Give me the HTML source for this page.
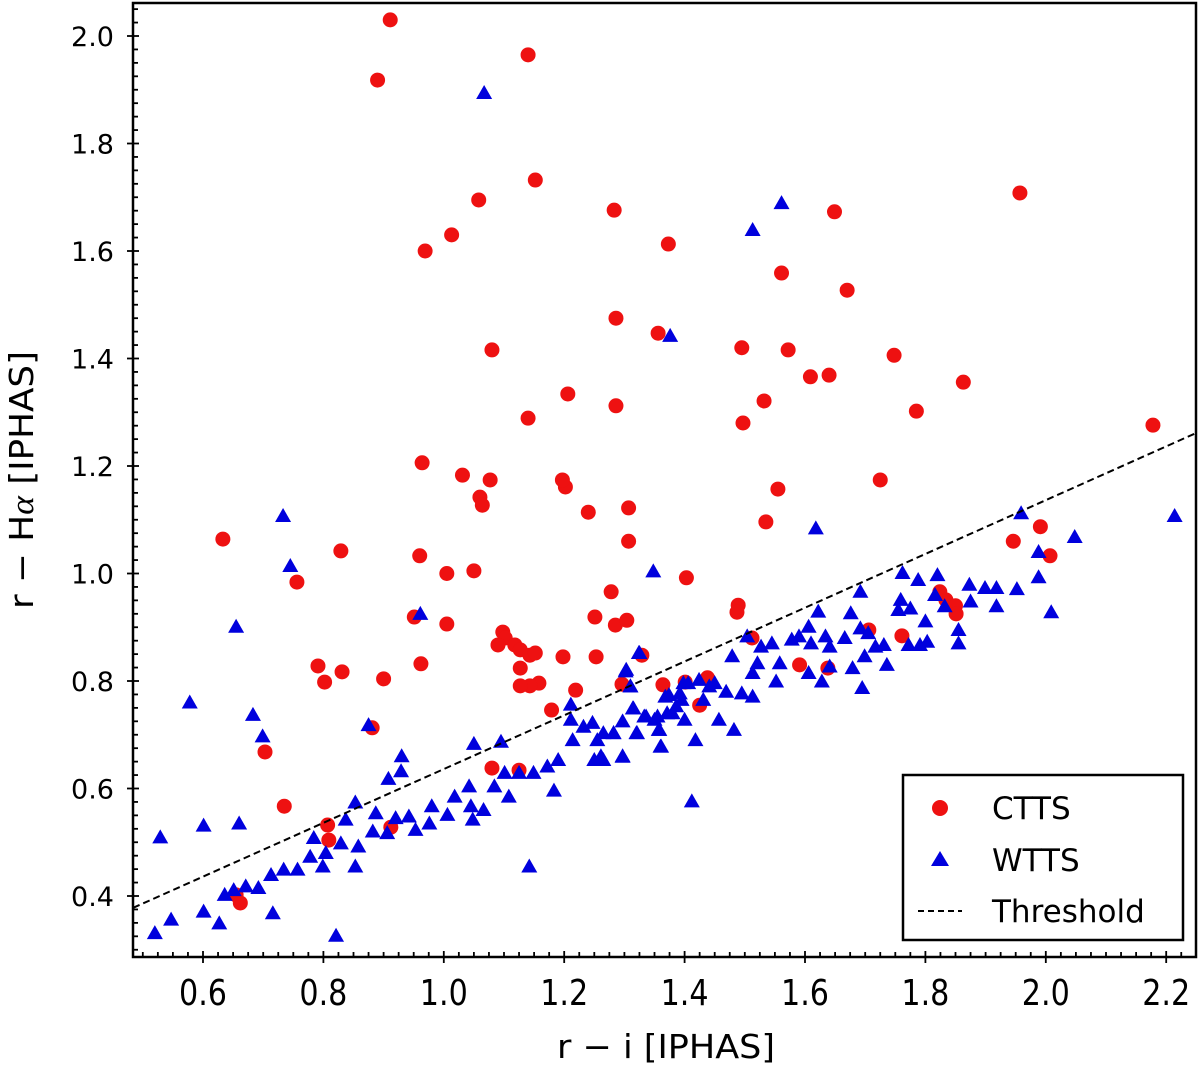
<!DOCTYPE html>
<html><head><meta charset="utf-8"><style>
html,body{margin:0;padding:0;background:#fff;}
svg{display:block;font-family:"DejaVu Sans","Liberation Sans",sans-serif;}
</style></head><body>
<svg id="chart" width="1200" height="1068" viewBox="0 0 1200 1068">
<g id="marks"></g>
<g id="axes"></g>
<text x="666" y="1058" font-size="33" text-anchor="middle" textLength="218" lengthAdjust="spacingAndGlyphs">r − i  [IPHAS]</text>
<text transform="translate(33,480) rotate(-90)" font-size="33" text-anchor="middle" textLength="258" lengthAdjust="spacingAndGlyphs">r − H<tspan font-style="italic" font-family="Liberation Serif, serif">α</tspan>  [IPHAS]</text>
<g>
<rect x="903" y="775" width="280" height="165" fill="#fff" stroke="#000" stroke-width="2.5"/>
<g><circle cx="940" cy="808" r="8" fill="#ee1111"/><text x="992" y="819" font-size="31">CTTS</text></g>
<g><polygon points="931,866 940,851 949,866" fill="#0000dd"/><text x="992" y="871" font-size="31">WTTS</text></g>
<g><line x1="918" y1="911" x2="962" y2="911" stroke="#000" stroke-width="2" stroke-dasharray="6,4"/><text x="992" y="922" font-size="31">Threshold</text></g>
</g>
</svg>
<script>
const xTicks=[0.6,0.8,1.0,1.2,1.4,1.6,1.8,2.0,2.2];
const yTicks=[0.4,0.6,0.8,1.0,1.2,1.4,1.6,1.8,2.0];
const thresholdX=[0.484,2.249];
const thresholdY=[0.378,1.261];
const cttsX=[0.911,0.890,1.140,1.152,1.058,1.013,0.969,1.283,1.373,1.080,1.286,1.356,1.206,1.286,1.140,0.964,1.031,1.077,1.060,1.064,1.202,1.197,1.240,1.307,1.307,1.005,0.960,1.050,1.278,1.251,1.285,1.304,1.098,1.102,1.118,1.127,1.143,1.090,1.152,1.158,1.127,1.198,1.253,1.219,1.143,1.127,1.179,1.296,1.329,0.951,1.005,0.962,0.791,0.831,0.802,0.900,0.881,0.703,0.735,0.807,0.912,0.633,0.756,0.829,1.080,1.125,1.403,1.401,1.364,1.489,1.487,1.512,1.495,1.649,1.561,1.670,1.572,1.609,1.640,1.532,1.497,1.748,1.785,1.957,1.863,2.178,1.725,1.555,1.535,1.946,1.991,2.007,1.824,1.834,1.850,1.851,1.761,1.706,1.591,1.638,1.438,1.425,0.655,0.662,0.809];
const cttsY=[2.030,1.918,1.965,1.732,1.695,1.630,1.600,1.676,1.613,1.416,1.475,1.447,1.334,1.312,1.289,1.206,1.183,1.174,1.142,1.127,1.161,1.174,1.114,1.122,1.060,1.000,1.033,1.005,0.966,0.919,0.904,0.913,0.891,0.880,0.867,0.858,0.848,0.867,0.852,0.796,0.824,0.845,0.845,0.783,0.791,0.791,0.746,0.794,0.848,0.919,0.906,0.832,0.828,0.817,0.798,0.804,0.713,0.668,0.567,0.532,0.528,1.064,0.984,1.042,0.638,0.634,0.992,0.798,0.793,0.941,0.928,0.880,1.420,1.673,1.559,1.527,1.416,1.366,1.369,1.321,1.280,1.406,1.302,1.708,1.356,1.276,1.174,1.157,1.096,1.060,1.087,1.033,0.966,0.951,0.940,0.925,0.884,0.895,0.830,0.824,0.806,0.755,0.402,0.387,0.504];
const wttsX=[0.529,0.601,0.660,0.655,0.578,0.683,0.699,0.875,0.961,1.050,1.095,1.142,1.183,0.716,0.821,0.601,0.627,0.520,0.547,0.930,0.929,0.908,0.853,0.887,0.837,0.784,0.804,0.778,0.734,0.757,0.713,0.692,0.671,0.651,0.636,0.799,0.853,0.829,0.858,0.882,0.906,0.920,0.942,0.953,0.980,0.976,1.006,1.018,1.042,1.045,1.066,1.048,1.084,1.101,1.108,1.125,1.149,1.172,1.190,1.211,1.211,1.214,1.232,1.247,1.255,1.261,1.250,1.282,1.297,1.303,1.310,1.315,1.321,1.333,1.350,1.357,1.360,1.368,1.380,1.395,1.398,1.324,
1.618,1.348,1.959,2.048,1.988,1.988,2.009,1.952,1.918,1.899,1.873,1.918,1.875,1.832,1.820,1.816,1.788,1.762,1.759,1.775,1.755,1.800,1.855,1.855,1.803,1.791,1.772,1.736,1.731,1.717,1.705,1.692,1.692,1.676,1.666,1.699,1.679,1.695,1.641,1.634,1.622,1.606,1.590,1.578,1.610,1.641,1.628,1.606,1.558,1.545,1.527,1.521,1.513,1.504,1.479,1.552,1.513,1.495,1.469,1.450,1.441,1.431,1.424,1.406,1.392,1.374,1.386,1.371,1.355,1.336,1.314,1.297,1.282,1.265,1.320,1.358,1.400,1.457,1.482,1.418,1.361,1.297,1.265,1.412,1.302,1.310,1.325,
1.067,1.561,1.513,1.376,0.733,0.745,2.214];
const wttsY=[0.509,0.531,0.535,0.901,0.760,0.737,0.697,0.718,0.925,0.683,0.687,0.455,0.596,0.368,0.326,0.371,0.349,0.331,0.356,0.660,0.632,0.618,0.574,0.554,0.542,0.508,0.480,0.473,0.449,0.449,0.439,0.415,0.418,0.411,0.402,0.455,0.455,0.498,0.492,0.520,0.517,0.545,0.548,0.523,0.567,0.535,0.551,0.585,0.604,0.567,0.560,0.542,0.604,0.629,0.585,0.629,0.629,0.641,0.653,0.756,0.728,0.690,0.715,0.722,0.690,0.660,0.653,0.703,0.660,0.821,0.790,0.749,0.703,0.734,0.728,0.709,0.678,0.771,0.740,0.765,0.796,0.852,
1.084,1.004,1.112,1.068,1.040,0.993,0.928,0.971,0.973,0.973,0.979,0.939,0.948,0.939,0.997,0.960,0.988,1.001,0.951,0.935,0.932,0.911,0.895,0.870,0.873,0.867,0.867,0.830,0.867,0.864,0.889,0.898,0.966,0.926,0.880,0.846,0.824,0.787,0.864,0.883,0.929,0.901,0.883,0.877,0.870,0.827,0.799,0.815,0.833,0.870,0.864,0.833,0.815,0.883,0.846,0.799,0.771,0.777,0.780,0.796,0.790,0.765,0.802,0.796,0.777,0.774,0.753,0.740,0.734,0.734,0.749,0.725,0.703,0.703,0.703,0.709,0.728,0.728,0.709,0.690,0.678,0.659,0.653,0.576,0.818,0.790,0.852,
1.894,1.689,1.639,1.442,1.107,1.014,1.107];

const L=133,R=1196,T=3,B=957;
const xs=v=>203+(v-0.6)*602;
const ys=v=>896-(v-0.4)*537.5;
const NS='http://www.w3.org/2000/svg';
const marks=document.getElementById('marks');
const axes=document.getElementById('axes');
function mk(tag,attrs,parent){const e=document.createElementNS(NS,tag);for(const k in attrs)e.setAttribute(k,attrs[k]);parent.appendChild(e);return e;}

for(let i=0;i<cttsX.length;i++){
  const c=mk('circle',{cx:xs(cttsX[i]),cy:ys(cttsY[i]),r:7.5,fill:'#ee1111'},marks);
  
  
}
for(let i=0;i<wttsX.length;i++){
  const x=xs(wttsX[i]),y=ys(wttsY[i]);
  const p=mk('polygon',{points:`${x-8},${y+6} ${x},${y-8} ${x+8},${y+6}`,fill:'#0000dd'},marks);
  
  
}
const th=mk('line',{x1:xs(thresholdX[0]),y1:ys(thresholdY[0]),x2:xs(thresholdX[1]),y2:ys(thresholdY[1]),stroke:'#000','stroke-width':2,'stroke-dasharray':'7,4'},marks);



const fr=mk('rect',{x:L,y:T,width:R-L,height:B-T,fill:'none',stroke:'#000','stroke-width':2.5},axes);


for(let v=0.5;v<=2.25;v+=0.025){
  const x=xs(v); if(x<L+1||x>R-1)continue;
  const major=Math.abs(Math.round(v*10)/10-v)<1e-6 && Math.round(v*10)%2===0;
  mk('line',{x1:x,y1:major?B+6:B,x2:x,y2:B-(major?6:5),stroke:'#000','stroke-width':1.8},axes);
}
for(let v=0.275;v<=2.06;v+=0.025){
  const y=ys(v); if(y<T+1||y>B-1)continue;
  const major=Math.abs(Math.round(v*10)/10-v)<1e-6 && Math.round(v*10)%2===0;
  mk('line',{x1:major?L-6:L,y1:y,x2:L+(major?6:5),y2:y,stroke:'#000','stroke-width':1.8},axes);
}
xTicks.forEach(v=>{
  const t=mk('text',{x:xs(v),y:1005,'font-size':36,'text-anchor':'middle',textLength:48,lengthAdjust:'spacingAndGlyphs'},axes);
  t.textContent=v.toFixed(1);
  
  
});
yTicks.forEach(v=>{
  const t=mk('text',{x:114,y:ys(v)+10,'font-size':27,'text-anchor':'end'},axes);
  t.textContent=v.toFixed(1);
  
  
});
</script>
</body></html>
